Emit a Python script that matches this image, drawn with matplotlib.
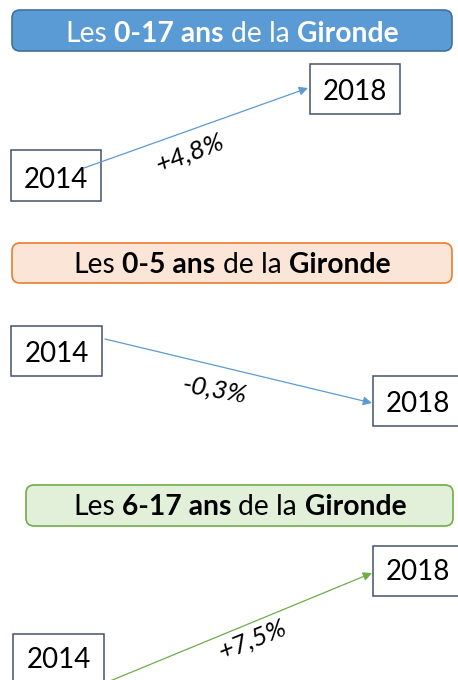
import matplotlib.pyplot as plt
from matplotlib.patches import FancyBboxPatch, Rectangle

# data
years = ["2014", "2018"]
age_groups = ["0-17 ans", "0-5 ans", "6-17 ans"]
growth = [4.8, -0.3, 7.5]
face_colors = ["#5B9BD5", "#FBE5D6", "#E2F0D9"]
edge_colors = ["#41719C", "#ED7D31", "#70AD47"]
title_text_colors = ["white", "black", "black"]
arrow_colors = ["#5B9BD5", "#5B9BD5", "#70AD47"]

# layout in pixels (y from top)
panels = [
    dict(title=(12, 10, 440, 41), title_base=42,
         box14=(11, 150, 90, 51), base14=188,
         box18=(310, 64, 90, 50), base18=100,
         arrow=((84, 168), (308, 88)), label=(190, 153), rot=21),
    dict(title=(12, 243, 440, 40), title_base=273,
         box14=(11, 326, 91, 50), base14=362,
         box18=(373, 376, 90, 50), base18=412,
         arrow=((105, 339), (372, 403)), label=(215, 390), rot=-10),
    dict(title=(26, 485, 427, 41), title_base=515,
         box14=(13, 634, 91, 50), base14=668,
         box18=(373, 546, 90, 50), base18=580,
         arrow=((110, 681), (372, 573)), label=(253, 640), rot=22),
]

FONT = "Lato"
box_edge = "#44546A"

fig = plt.figure(figsize=(4.58, 6.8), dpi=100)
ax = fig.add_axes([0, 0, 1, 1])
ax.set_xlim(0, 458)
ax.set_ylim(680, 0)
ax.axis("off")
renderer = fig.canvas.get_renderer()


def text_width(s, **kw):
    t = ax.text(0, 0, s, **kw)
    bb = t.get_window_extent(renderer)
    t.remove()
    return bb.width


for i, p in enumerate(panels):
    x, y, w, h = p["title"]
    ax.add_patch(FancyBboxPatch((x, y), w, h,
                                boxstyle="round,pad=0,rounding_size=8",
                                fc=face_colors[i], ec=edge_colors[i], lw=1.2))
    parts = [("Les", "normal"), (age_groups[i], "bold"),
             ("de la", "normal"), ("Gironde", "bold")]
    fs = 20.3
    space = text_width("a a", fontsize=fs, family=FONT) - text_width("aa", fontsize=fs, family=FONT)
    widths = [text_width(s, fontsize=fs, family=FONT, weight=wt) for s, wt in parts]
    total = sum(widths) + space * (len(parts) - 1)
    cx = x + w / 2 - total / 2
    for (s, wt), tw in zip(parts, widths):
        ax.text(cx, p["title_base"], s, fontsize=fs, family=FONT, weight=wt,
                color=title_text_colors[i], ha="left", va="baseline")
        cx += tw + space

    for key, base, yr in [("box14", p["base14"], years[0]), ("box18", p["base18"], years[1])]:
        bx, by, bw, bh = p[key]
        ax.add_patch(Rectangle((bx, by), bw, bh, fc="white", ec=box_edge, lw=1.1))
        ax.text(bx + bw / 2, base, yr, fontsize=20, family=FONT,
                ha="center", va="baseline", color="black")

    (x0, y0), (x1, y1) = p["arrow"]
    ax.annotate("", xy=(x1, y1), xytext=(x0, y0),
                arrowprops=dict(arrowstyle="-|>", color=arrow_colors[i], lw=0.9,
                                mutation_scale=13, shrinkA=0, shrinkB=0))

    lab = f"{growth[i]:+.1f}%".replace(".", ",")
    ax.text(p["label"][0], p["label"][1], lab, fontsize=19, family=FONT,
            style="italic", rotation=p["rot"], rotation_mode="anchor",
            ha="center", va="center", color="black")

fig.savefig("out.png", dpi=100)
